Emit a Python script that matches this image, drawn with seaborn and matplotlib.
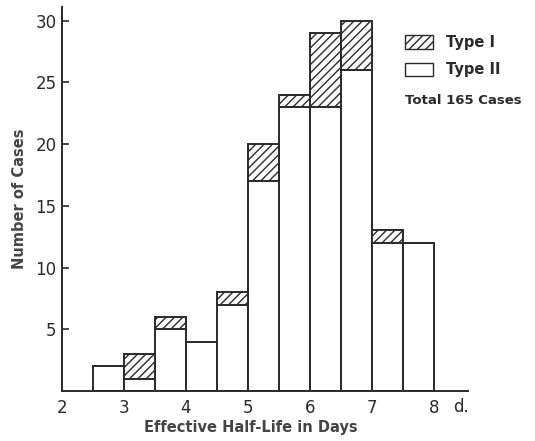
import numpy as np
import pandas as pd
import matplotlib
matplotlib.use("Agg")
import matplotlib.pyplot as plt
import matplotlib.patches as mpatches
import seaborn as sns

# Data (bin edges every 0.5 day)
bin_edges = [2.5, 3.0, 3.5, 4.0, 4.5, 5.0, 5.5, 6.0, 6.5, 7.0, 7.5, 8.0]
type1_counts = [0, 2, 1, 0, 1, 3, 1, 6, 4, 1, 0]
type2_counts = [2, 1, 5, 4, 7, 17, 23, 23, 26, 12, 12]
x_ticks = [2, 3, 4, 5, 6, 7, 8]
y_ticks = [5, 10, 15, 20, 25, 30]

mids = [(a + b) / 2 for a, b in zip(bin_edges[:-1], bin_edges[1:])]
df = pd.DataFrame({
    "mid": mids * 2,
    "count": type1_counts + type2_counts,
    "type": ["Type I"] * len(mids) + ["Type II"] * len(mids),
})

sns.set_style("white")
plt.rcParams["font.family"] = ["DejaVu Sans"]
plt.rcParams["hatch.linewidth"] = 1.0
ink = "#2a2a2a"

fig = plt.figure(figsize=(5.35, 4.41), dpi=100)
ax = fig.add_axes([62 / 535, 50 / 441, (468 - 62) / 535, (391 - 7) / 441])

sns.histplot(data=df, x="mid", weights="count", hue="type",
             hue_order=["Type I", "Type II"], multiple="stack",
             bins=bin_edges, palette={"Type I": "red", "Type II": "white"},
             alpha=1, edgecolor=ink, linewidth=1.4, legend=False, ax=ax)

for p in ax.patches:
    fc = p.get_facecolor()
    if fc[0] > 0.9 and fc[1] < 0.1:
        p.set_facecolor("white")
        p.set_hatch("////")
        p.set_edgecolor(ink)

ax.set_xlim(2, 8.55)
ax.set_ylim(0, 31.1)
ax.set_xticks(x_ticks)
ax.set_xticklabels([str(t) for t in x_ticks], fontsize=12, color=ink)
ax.set_yticks(y_ticks)
ax.set_yticklabels([str(t) for t in y_ticks], fontsize=12, color=ink)
ax.tick_params(axis="x", length=0, pad=6)
ax.tick_params(axis="y", direction="in", length=5, width=1.2, color=ink, left=True, pad=4)
for s in ["top", "right"]:
    ax.spines[s].set_visible(False)
for s in ["left", "bottom"]:
    ax.spines[s].set_color(ink)
    ax.spines[s].set_linewidth(1.4)

ax.set_xlabel("Effective Half-Life in Days", fontsize=10.5, fontweight="bold", color="#444")
ax.xaxis.set_label_coords((251 - 62) / 406, -0.075)
ax.set_ylabel("Number of Cases", fontsize=10.5, fontweight="bold", color="#444")
ax.yaxis.set_label_coords(-0.085, 0.5)

ax.text(8.44, -0.6, "d.", fontsize=12, color=ink, ha="center", va="top")

h1 = mpatches.Patch(facecolor="white", edgecolor=ink, hatch="////", label="Type I")
h2 = mpatches.Patch(facecolor="white", edgecolor=ink, label="Type II")
leg = ax.legend(handles=[h1, h2], loc="upper left",
                bbox_to_anchor=((405 - 62) / 406, (391 - 35) / 384),
                frameon=False, fontsize=10.5, handlelength=1.9, handleheight=1.0,
                handletextpad=0.9, labelspacing=0.85, borderaxespad=0, borderpad=0)
for t in leg.get_texts():
    t.set_color(ink)
    t.set_fontweight("bold")
ax.text((405 - 62) / 406, (391 - 100) / 384, "Total 165 Cases", transform=ax.transAxes,
        fontsize=9.5, color=ink, fontweight="bold", ha="left", va="center")

fig.savefig("out.png", dpi=100, facecolor="white")
